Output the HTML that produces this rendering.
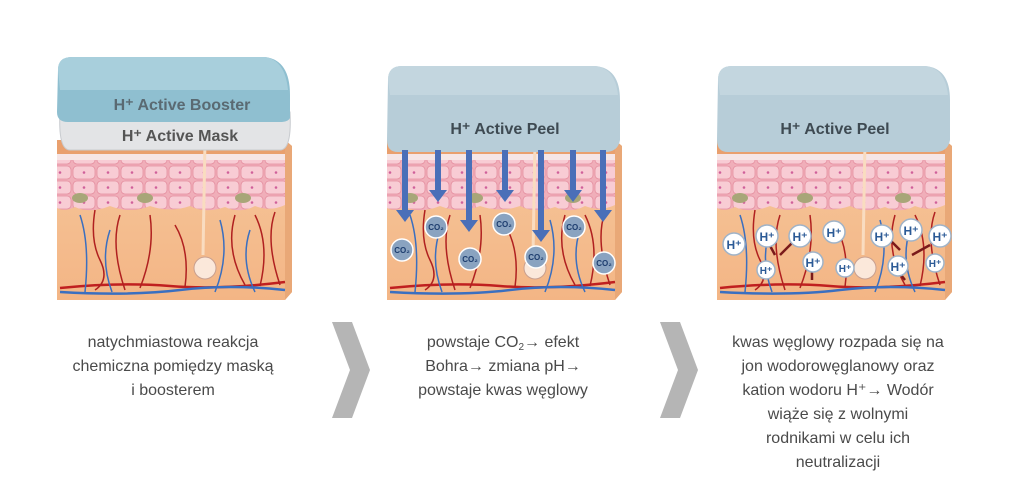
<!DOCTYPE html>
<html><head><meta charset="utf-8"><style>
body{margin:0;background:#fff;width:1024px;height:502px;overflow:hidden;font-family:"Liberation Sans",sans-serif}
.t{position:absolute;text-align:center;color:#4a4a4a;font-size:16px;line-height:24px;width:300px}
</style></head><body>
<svg width="1024" height="502" style="position:absolute;left:0;top:0">
<defs>
<linearGradient id="derm" x1="0" y1="0" x2="0" y2="1"><stop offset="0" stop-color="#f6c79b"/><stop offset="1" stop-color="#f3b585"/></linearGradient>
<pattern id="cells" width="24" height="15" patternUnits="userSpaceOnUse">
<rect width="24" height="15" fill="#f0aeb9"/>
<rect x="1" y="1" width="22" height="13" rx="4" fill="#f8ccd4" stroke="#e58fa0" stroke-width="0.8"/>
<circle cx="12" cy="7.5" r="1.3" fill="#d0609a"/>
</pattern>
<g id="skin">
<polygon points="57,140 285,140 292,146 292,292 285,300 57,300" fill="url(#derm)"/>
<polygon points="285,140 292,146 292,292 285,300" fill="#e9a877"/>
<rect x="57" y="140" width="228" height="14" fill="#e9a06e"/>
<rect x="57" y="154" width="228" height="6" fill="#f6e6e6"/>
<path d="M57,160 H285 V205 Q270,212 255,206 Q240,214 225,207 Q205,214 190,206 Q170,213 150,206 Q130,214 110,206 Q90,214 75,207 Q65,212 57,208 Z" fill="url(#cells)"/>
<ellipse cx="80" cy="198" rx="8" ry="5" fill="#a8a678"/>
<ellipse cx="145" cy="198" rx="8" ry="5" fill="#a8a678"/>
<ellipse cx="243" cy="198" rx="8" ry="5" fill="#a8a678"/>
<line x1="205" y1="140" x2="203" y2="255" stroke="#f9dcc0" stroke-width="3"/>
<circle cx="205" cy="268" r="11" fill="#fbe8da" stroke="#c9a090"/>
<path d="M60,288 Q120,282 170,286 T285,282" stroke="#c02020" stroke-width="2.5" fill="none"/>
<path d="M60,292 Q130,296 180,290 T285,290" stroke="#3a6fc0" stroke-width="2.5" fill="none"/>
<path d="M95,210 Q90,240 100,260 T95,290 M120,215 Q110,245 125,290 M150,215 Q155,250 140,288 M175,225 Q190,250 185,287 M235,215 Q225,250 245,285 M255,215 Q270,245 260,286 M275,212 Q265,240 280,285" stroke="#b02020" stroke-width="1.5" fill="none"/>
<path d="M80,215 Q90,245 85,292 M110,230 Q100,260 112,292 M220,220 Q230,255 215,292 M250,230 Q240,260 255,292" stroke="#3a6fc0" stroke-width="1.5" fill="none"/>
</g>
</defs>
<use href="#skin"/>
<path d="M60,112 Q58,150 70,150 H280 Q292,150 290,112 Z" fill="#e3e4e6" stroke="#c8cbcf"/>
<path d="M58,70 Q58,57 72,57 H265 Q290,60 290,95 V118 Q288,122 280,122 H68 Q57,122 57,112 Z" fill="#8fbfd0"/>
<path d="M58,70 Q58,57 72,57 H265 Q285,60 288,90 H60 Z" fill="#a8cfdc"/>
<text x="182" y="110" font-size="16" font-weight="bold" fill="#5a6a72" text-anchor="middle">H⁺ Active Booster</text>
<text x="180" y="141" font-size="16" font-weight="bold" fill="#555" text-anchor="middle">H⁺ Active Mask</text>
<use href="#skin" x="330"/>
<path d="M388,80 Q388,66 402,66 H595 Q620,68 620,100 V140 Q618,152 605,152 H398 Q387,152 387,140 Z" fill="#b7cdd8"/>
<path d="M388,80 Q388,66 402,66 H595 Q615,68 618,95 H390 Z" fill="#c3d6df"/>
<text x="505" y="134" font-size="16" font-weight="bold" fill="#3e4a52" text-anchor="middle">H⁺ Active  Peel</text>
<g fill="#4a6fb8">
<path d="M402,150h6v60h6l-9,12l-9,-12h6z"/><path d="M435,150h6v40h6l-9,12l-9,-12h6z"/>
<path d="M466,150h6v70h6l-9,12l-9,-12h6z"/><path d="M502,150h6v40h6l-9,12l-9,-12h6z"/>
<path d="M538,150h6v80h6l-9,12l-9,-12h6z"/><path d="M570,150h6v40h6l-9,12l-9,-12h6z"/>
<path d="M600,150h6v60h6l-9,12l-9,-12h6z"/>
</g>
<g fill="#8aa3c0" stroke="#fff" stroke-width="1.5">
<circle cx="402" cy="250" r="11"/><circle cx="436" cy="227" r="11"/><circle cx="470" cy="259" r="11"/>
<circle cx="504" cy="224" r="11"/><circle cx="536" cy="257" r="11"/><circle cx="574" cy="227" r="11"/><circle cx="604" cy="263" r="11"/>
</g>
<g fill="#1d3d6e" font-size="8" font-weight="bold" text-anchor="middle">
<text x="402" y="253">CO₂</text><text x="436" y="230">CO₂</text><text x="470" y="262">CO₂</text><text x="504" y="227">CO₂</text><text x="536" y="260">CO₂</text><text x="574" y="230">CO₂</text><text x="604" y="266">CO₂</text>
</g>
<use href="#skin" x="660"/>
<path d="M718,80 Q718,66 732,66 H925 Q950,68 950,100 V140 Q948,152 935,152 H728 Q717,152 717,140 Z" fill="#b7cdd8"/>
<path d="M718,80 Q718,66 732,66 H925 Q945,68 948,95 H720 Z" fill="#c3d6df"/>
<text x="835" y="134" font-size="16" font-weight="bold" fill="#3e4a52" text-anchor="middle">H⁺ Active  Peel</text>
<g stroke="#7a1a1a" stroke-width="2.5">
<line x1="775" y1="255" x2="768" y2="242"/><line x1="780" y1="255" x2="792" y2="243"/><line x1="812" y1="280" x2="812" y2="268"/>
<line x1="900" y1="250" x2="890" y2="240"/><line x1="912" y1="255" x2="930" y2="245"/><line x1="905" y1="280" x2="897" y2="270"/>
</g>
<g fill="#fff" stroke="#9fb3c8" stroke-width="1.5">
<circle cx="734" cy="244" r="11"/><circle cx="767" cy="236" r="11"/><circle cx="800" cy="236" r="11"/><circle cx="834" cy="232" r="11"/>
<circle cx="766" cy="270" r="9"/><circle cx="813" cy="262" r="10"/><circle cx="845" cy="268" r="9"/>
<circle cx="882" cy="236" r="11"/><circle cx="911" cy="230" r="11"/><circle cx="940" cy="236" r="11"/>
<circle cx="898" cy="266" r="10"/><circle cx="935" cy="263" r="9"/>
</g>
<g fill="#2b5a96" font-weight="bold" text-anchor="middle" font-size="12">
<text x="734" y="249">H⁺</text><text x="767" y="241">H⁺</text><text x="800" y="241">H⁺</text><text x="834" y="237">H⁺</text>
<text x="766" y="274" font-size="10">H⁺</text><text x="813" y="267">H⁺</text><text x="845" y="272" font-size="10">H⁺</text>
<text x="882" y="241">H⁺</text><text x="911" y="235">H⁺</text><text x="940" y="241">H⁺</text>
<text x="898" y="271">H⁺</text><text x="935" y="267" font-size="10">H⁺</text>
</g>
<polygon points="332,322 352,322 370,370 352,418 332,418 350,370" fill="#b5b5b5"/>
<polygon points="660,322 680,322 698,370 680,418 660,418 678,370" fill="#b5b5b5"/>
</svg>
<div class="t" style="left:23px;top:331px">natychmiastowa reakcja<br>chemiczna pomiędzy maską<br>i boosterem</div>
<div class="t" style="left:353px;top:331px">powstaje CO<span style="font-size:10px;vertical-align:-3px;line-height:0">2</span>→ efekt<br>Bohra→ zmiana pH→<br>powstaje kwas węglowy</div>
<div class="t" style="left:688px;top:331px">kwas węglowy rozpada się na<br>jon wodorowęglanowy oraz<br>kation wodoru H⁺→ Wodór<br>wiąże się z wolnymi<br>rodnikami w celu ich<br>neutralizacji</div>
</body></html>
